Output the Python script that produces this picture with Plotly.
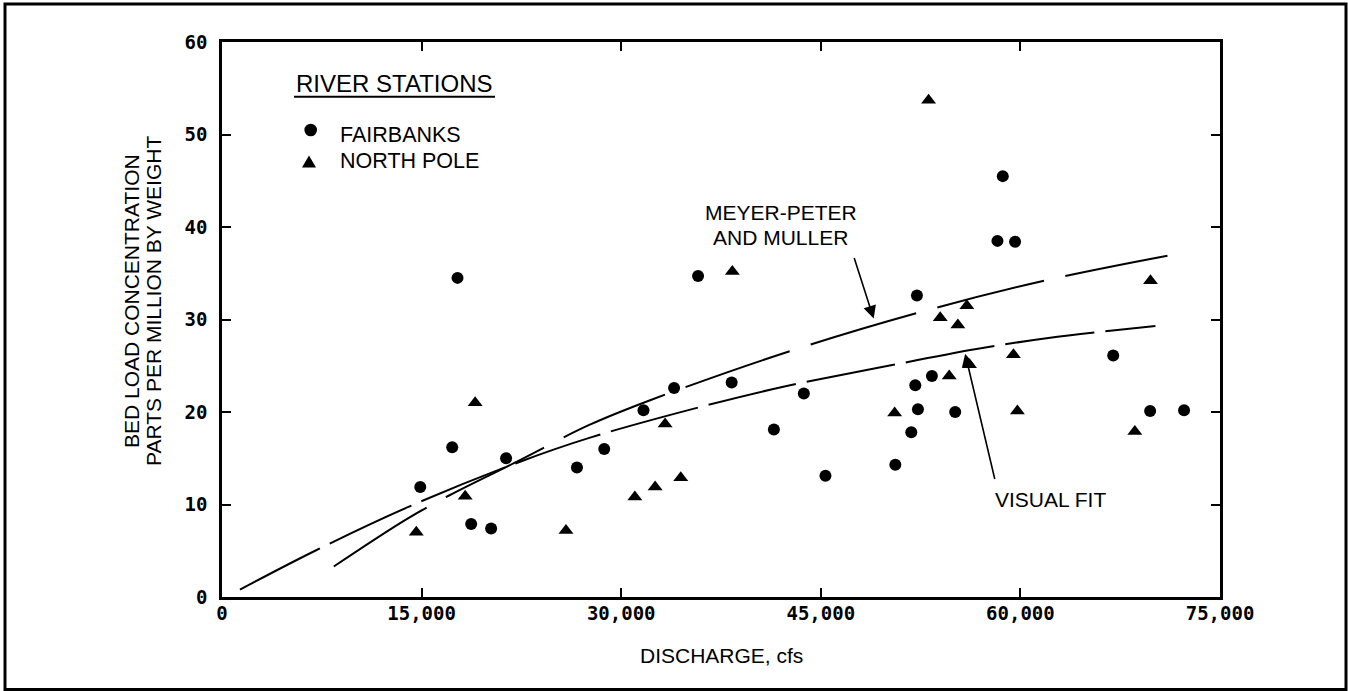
import plotly.graph_objects as go

# ---- data ----
fair_x = [17700, 17300, 21350, 14900, 18725, 20225, 26675, 35775, 52225, 53350,
          52100, 33975, 38300, 43725, 31675, 52300, 55100, 51800, 41475, 28725,
          45350, 50600, 58675, 58275, 59600, 66975, 69750, 72300]
fair_y = [34.5, 16.2, 15.0, 11.9, 7.9, 7.4, 14.0, 34.7, 32.6, 23.9,
          22.9, 22.6, 23.2, 22.0, 20.2, 20.3, 20.0, 17.8, 18.1, 16.0,
          13.1, 14.3, 45.5, 38.5, 38.4, 26.1, 20.1, 20.2]

np_x = [19025, 18275, 14600, 25850, 38350, 55975, 53975, 55300, 59475, 56175,
        54650, 33300, 50550, 59775, 34475, 32550, 31025, 53100, 69775, 68600]
np_y = [21.0, 10.9, 7.0, 7.2, 35.2, 31.5, 30.2, 29.4, 26.2, 25.1,
        23.9, 18.7, 19.9, 20.1, 12.9, 11.9, 10.8, 53.7, 34.2, 17.9]

visual_x = [1350, 7000, 14100, 22350, 27600, 36100, 42100, 49400, 56700, 62100, 70150]
visual_y = [0.8, 5.0, 9.8, 14.6, 17.2, 20.6, 22.7, 24.8, 26.8, 28.0, 29.3]

meyer_x = [8400, 13850, 17100, 21975, 27600, 32225, 42725, 52725, 62100, 71050]
meyer_y = [3.3, 8.4, 11.0, 14.5, 18.6, 21.3, 26.6, 30.9, 34.3, 36.9]

x_ticks = [0, 15000, 30000, 45000, 60000, 75000]
x_ticktext = ["0", "15,000", "30,000", "45,000", "60,000", "75,000"]
y_ticks = [0, 10, 20, 30, 40, 50, 60]

legend_names = ["FAIRBANKS", "NORTH POLE"]

SANS = "Liberation Sans, Arial, Helvetica, sans-serif"
MONO = "DejaVu Sans Mono, monospace"

fig = go.Figure()

fig.add_trace(go.Scatter(
    x=visual_x, y=visual_y, mode="lines", showlegend=False, hoverinfo="skip",
    line=dict(color="black", width=2, dash="90px,11px", shape="spline")))
fig.add_trace(go.Scatter(
    x=meyer_x, y=meyer_y, mode="lines", showlegend=False, hoverinfo="skip",
    line=dict(color="black", width=2, dash="110px,22px", shape="spline")))

fig.add_trace(go.Scatter(
    x=fair_x, y=fair_y, mode="markers", name=legend_names[0], showlegend=False,
    marker=dict(symbol="circle", size=12, color="black")))
fig.add_trace(go.Scatter(
    x=np_x, y=np_y, mode="markers", name=legend_names[1], showlegend=False,
    marker=dict(symbol="triangle-up", size=13, color="black")))

axis_common = dict(
    showgrid=False, zeroline=False, showline=True, linecolor="black", linewidth=2.5,
    mirror="allticks", ticks="inside", ticklen=9, tickwidth=2, tickcolor="black",
    tickfont=dict(family=MONO, size=19, color="black", weight="bold"),
)

fig.update_xaxes(range=[0, 75000], tickvals=x_ticks, ticktext=x_ticktext,
                 ticklabelstandoff=-3, **axis_common)
fig.update_yaxes(range=[0, 60], tickvals=y_ticks, ticklabelstandoff=8, **axis_common)

PW, PH = 998.0, 555.0


def px2paper(px, py):
    return (px - 222) / PW, (597 - py) / PH


annotations = []


def add_text(text, px, py, size=21, anchor="center"):
    x, y = px2paper(px, py)
    annotations.append(dict(text=text, x=x, y=y, xref="paper", yref="paper",
                            showarrow=False, xanchor=anchor, yanchor="middle",
                            font=dict(family=SANS, size=size, color="black")))


add_text("RIVER STATIONS", 394, 83, size=24)
add_text(legend_names[0], 338, 135.5, size=21.5, anchor="left")
add_text(legend_names[1], 338, 161.3, size=21.5, anchor="left")
add_text("MEYER-PETER", 781, 213)
add_text("AND MULLER", 780, 238)
add_text("VISUAL FIT", 1050, 499)
add_text("DISCHARGE, cfs", 721, 655)

# y-axis title (two rotated lines)
for txt, px in [("BED LOAD CONCENTRATION", 131), ("PARTS PER MILLION BY WEIGHT", 153)]:
    x, y = px2paper(px, 301)
    annotations.append(dict(text=txt, x=x, y=y, xref="paper", yref="paper",
                            showarrow=False, textangle=-90, xanchor="center",
                            yanchor="middle",
                            font=dict(family=SANS, size=21, color="black")))

# arrows
for tip, tail in [((48975, 30.1), (47475, 36.8)), ((55850, 26.3), (58100, 12.6))]:
    annotations.append(dict(text="", x=tip[0], y=tip[1], ax=tail[0], ay=tail[1],
                            xref="x", yref="y", axref="x", ayref="y",
                            showarrow=True, arrowhead=2, arrowsize=1.6,
                            arrowwidth=1.6, arrowcolor="black", standoff=0))

ux0, uy = px2paper(294, 96.7)
ux1, _ = px2paper(495, 96.7)
bx0, by1 = px2paper(5, 4)
bx1, by0 = px2paper(1346, 689.5)

# legend symbols
cx0, cy0 = px2paper(310.7 - 6.3, 130 - 6.3)
cx1, cy1 = px2paper(310.7 + 6.3, 130 + 6.3)
t1 = px2paper(309, 155.5)
t2 = px2paper(302, 167.5)
t3 = px2paper(316, 167.5)
tri_path = "M {:.5f},{:.5f} L {:.5f},{:.5f} L {:.5f},{:.5f} Z".format(*t1, *t2, *t3)

shapes = [
    dict(type="line", xref="paper", yref="paper", x0=ux0, x1=ux1, y0=uy, y1=uy,
         line=dict(color="black", width=2)),
    dict(type="rect", xref="paper", yref="paper", x0=bx0, x1=bx1, y0=by0, y1=by1,
         line=dict(color="black", width=3)),
    dict(type="circle", xref="paper", yref="paper", x0=cx0, x1=cx1, y0=cy0, y1=cy1,
         fillcolor="black", line=dict(color="black", width=0)),
    dict(type="path", xref="paper", yref="paper", path=tri_path,
         fillcolor="black", line=dict(color="black", width=0)),
]

fig.update_layout(
    width=1348, height=691,
    margin=dict(l=222, r=128, t=42, b=94),
    paper_bgcolor="white", plot_bgcolor="white",
    annotations=annotations, shapes=shapes,
    showlegend=False,
)

fig.write_html("out.html", config={"displayModeBar": False},
               post_script="document.body.style.margin='0px';")
